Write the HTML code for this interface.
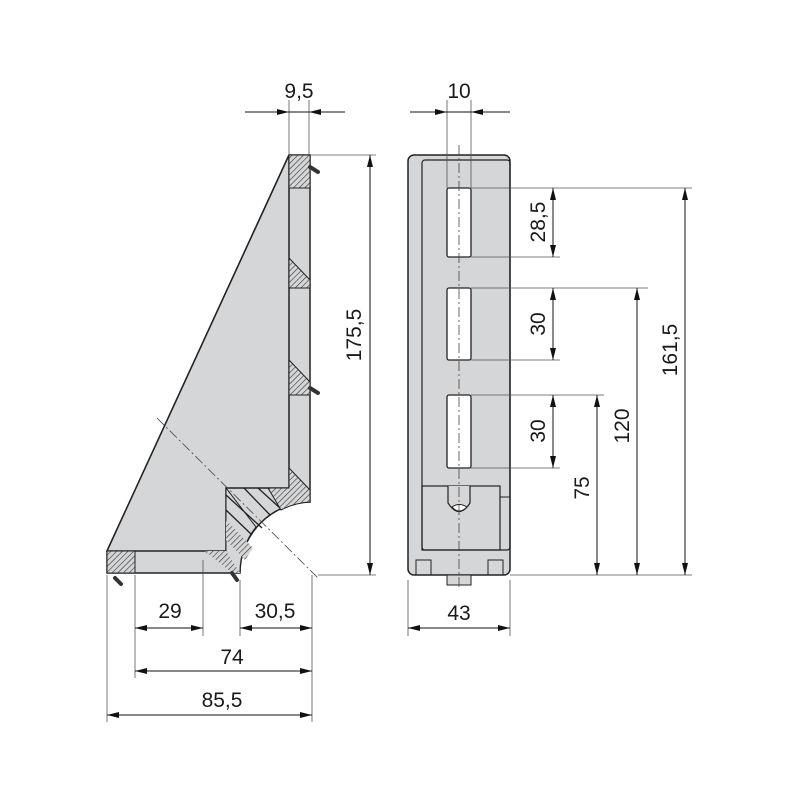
<!DOCTYPE html>
<html><head><meta charset="utf-8"><style>
body{margin:0;background:#fff}
svg{display:block}
text{font-family:"Liberation Sans",sans-serif;font-size:21px;fill:#1a1a1a}
</style></head><body>
<svg width="800" height="800" viewBox="0 0 800 800" xmlns="http://www.w3.org/2000/svg">
<defs>
<pattern id="h" width="4" height="4" patternUnits="userSpaceOnUse" patternTransform="rotate(45)">
<rect width="4" height="4" fill="#d4d6d8"/><line x1="0" y1="0" x2="0" y2="4" stroke="#333" stroke-width="1.2"/></pattern>
<marker id="a" viewBox="0 0 12 6" refX="12" refY="3" markerWidth="12" markerHeight="6" orient="auto-start-reverse" markerUnits="userSpaceOnUse"><path d="M0,0 L12,3 L0,6z" fill="#111"/></marker>
</defs>
<!-- LEFT VIEW -->
<path d="M289,155 L310,155 L310,502 A71,71 0 0 0 240,573 L107,573 L107,551 Z" fill="#d4d6d8" stroke="#222" stroke-width="1.5"/>
<path d="M107,551 L289,155 L289,488 L226,488 L226,551 Z" fill="#d4d6d8" stroke="#222" stroke-width="1.5"/>
<rect x="289" y="155" width="21" height="33" fill="url(#h)" stroke="#222" stroke-width="1"/>
<path d="M289,258 L310,280 L310,288 L289,288Z" fill="url(#h)" stroke="#222" stroke-width="1"/>
<path d="M289,360 L310,382 L310,395 L289,395Z" fill="url(#h)" stroke="#222" stroke-width="1"/>
<path d="M289,468 L310,490 L310,502 A71,71 0 0 0 281,510 L268,488 L289,488Z" fill="url(#h)" stroke="#222" stroke-width="1"/>
<path d="M226,488 L226,551 L205,551 L240,573 A71,71 0 0 1 256,527 Z" fill="#d4d6d8" stroke="#222" stroke-width="1"/>
<path d="M226,520 L253,548 L245,560 L226,540Z" fill="url(#h)"/>
<path d="M205,551 L226,551 L240,573 L232,573Z" fill="url(#h)"/>
<rect x="107" y="551" width="28" height="22" fill="url(#h)" stroke="#222" stroke-width="1"/>
<g stroke="#222" stroke-width="1.3"><line x1="226" y1="495" x2="262" y2="528"/><line x1="226" y1="510" x2="252" y2="535"/><line x1="244" y1="488" x2="270" y2="515"/><line x1="258" y1="488" x2="280" y2="508"/></g>
<line x1="289" y1="188" x2="310" y2="188" stroke="#222"/><line x1="289" y1="288" x2="310" y2="288" stroke="#222"/><line x1="289" y1="395" x2="310" y2="395" stroke="#222"/>
<g stroke="#333" stroke-width="4" stroke-linecap="round" fill="none"><line x1="310" y1="167" x2="318" y2="172"/><line x1="310" y1="388" x2="318" y2="393"/><line x1="115" y1="578" x2="121" y2="584"/><line x1="232" y1="573" x2="237" y2="580"/></g>
<line x1="157" y1="418" x2="318" y2="578" stroke="#444" stroke-dasharray="10,3,2,3" stroke-width="0.8"/>
<!-- LEFT DIMS -->
<g stroke="#555" stroke-width="0.8" fill="none">
<line x1="289" y1="100" x2="289" y2="155"/><line x1="309" y1="100" x2="309" y2="155"/>
<line x1="310" y1="155" x2="376" y2="155"/><line x1="318" y1="575" x2="376" y2="575"/>
<line x1="107" y1="575" x2="107" y2="722"/><line x1="135" y1="575" x2="135" y2="678"/>
<line x1="203" y1="560" x2="203" y2="636"/><line x1="240" y1="580" x2="240" y2="636"/>
<line x1="312" y1="575" x2="312" y2="722"/>
</g>
<g stroke="#111" stroke-width="1" fill="none">
<line x1="245" y1="112" x2="289" y2="112" marker-end="url(#a)"/><line x1="345" y1="112" x2="309" y2="112" marker-end="url(#a)"/><line x1="289" y1="112" x2="309" y2="112"/>
<line x1="370" y1="155" x2="370" y2="575" marker-start="url(#a)" marker-end="url(#a)"/>
<line x1="135" y1="628" x2="203" y2="628" marker-start="url(#a)" marker-end="url(#a)"/>
<line x1="240" y1="628" x2="312" y2="628" marker-start="url(#a)" marker-end="url(#a)"/>
<line x1="135" y1="671" x2="312" y2="671" marker-start="url(#a)" marker-end="url(#a)"/>
<line x1="107" y1="715" x2="312" y2="715" marker-start="url(#a)" marker-end="url(#a)"/>
</g>
<text x="299" y="98" text-anchor="middle">9,5</text>
<text transform="translate(361,335) rotate(-90)" text-anchor="middle">175,5</text>
<text x="170" y="618" text-anchor="middle">29</text>
<text x="275" y="618" text-anchor="middle">30,5</text>
<text x="232" y="664" text-anchor="middle">74</text>
<text x="222" y="707" text-anchor="middle">85,5</text>
<!-- RIGHT VIEW -->
<rect x="408" y="155" width="102" height="420" rx="6" fill="#d4d6d8" stroke="#222" stroke-width="1.5"/>
<rect x="422" y="160" width="88" height="390" rx="3" fill="none" stroke="#222" stroke-width="1.2"/>
<rect x="422" y="486" width="78" height="64" fill="none" stroke="#222" stroke-width="1.2"/>
<line x1="500" y1="497" x2="510" y2="497" stroke="#222"/>
<rect x="447" y="188" width="24" height="69" rx="2" fill="#fff" stroke="#222" stroke-width="1.3"/>
<rect x="447" y="288" width="24" height="72" rx="2" fill="#fff" stroke="#222" stroke-width="1.3"/>
<rect x="447" y="395" width="24" height="73" rx="2" fill="#fff" stroke="#222" stroke-width="1.3"/>
<path d="M448,486 L448,503 Q459,520 470,503 L470,486" fill="#d4d6d8" stroke="#222" stroke-width="1.2"/>
<path d="M452,507 Q459,502 467,507 Q459,515 452,507Z" fill="#fff" stroke="#222"/>
<rect x="416" y="560" width="15" height="15" fill="none" stroke="#222"/>
<rect x="488" y="560" width="15" height="15" fill="none" stroke="#222"/>
<rect x="447" y="575" width="24" height="10" fill="#d4d6d8" stroke="#222"/>
<line x1="459" y1="145" x2="459" y2="590" stroke="#444" stroke-dasharray="10,3,2,3" stroke-width="0.8"/>
<g stroke="#555" stroke-width="0.8" fill="none">
<line x1="447" y1="100" x2="447" y2="188"/><line x1="471" y1="100" x2="471" y2="188"/>
<line x1="471" y1="188" x2="692" y2="188"/><line x1="471" y1="257" x2="560" y2="257"/>
<line x1="471" y1="288" x2="648" y2="288"/><line x1="471" y1="360" x2="560" y2="360"/>
<line x1="471" y1="395" x2="604" y2="395"/><line x1="471" y1="468" x2="560" y2="468"/>
<line x1="510" y1="575" x2="692" y2="575"/>
<line x1="408" y1="580" x2="408" y2="636"/><line x1="510" y1="580" x2="510" y2="636"/>
</g>
<g stroke="#111" stroke-width="1" fill="none">
<line x1="410" y1="112" x2="447" y2="112" marker-end="url(#a)"/><line x1="510" y1="112" x2="471" y2="112" marker-end="url(#a)"/><line x1="447" y1="112" x2="471" y2="112"/>
<line x1="553" y1="188" x2="553" y2="257" marker-start="url(#a)" marker-end="url(#a)"/>
<line x1="553" y1="288" x2="553" y2="360" marker-start="url(#a)" marker-end="url(#a)"/>
<line x1="553" y1="395" x2="553" y2="468" marker-start="url(#a)" marker-end="url(#a)"/>
<line x1="597" y1="395" x2="597" y2="575" marker-start="url(#a)" marker-end="url(#a)"/>
<line x1="637" y1="288" x2="637" y2="575" marker-start="url(#a)" marker-end="url(#a)"/>
<line x1="685" y1="188" x2="685" y2="575" marker-start="url(#a)" marker-end="url(#a)"/>
<line x1="408" y1="628" x2="510" y2="628" marker-start="url(#a)" marker-end="url(#a)"/>
</g>
<text x="459" y="98" text-anchor="middle">10</text>
<text transform="translate(545,222) rotate(-90)" text-anchor="middle">28,5</text>
<text transform="translate(545,324) rotate(-90)" text-anchor="middle">30</text>
<text transform="translate(545,431) rotate(-90)" text-anchor="middle">30</text>
<text transform="translate(589,488) rotate(-90)" text-anchor="middle">75</text>
<text transform="translate(629,426) rotate(-90)" text-anchor="middle">120</text>
<text transform="translate(677,350) rotate(-90)" text-anchor="middle">161,5</text>
<text x="459" y="620" text-anchor="middle">43</text>
</svg>
</body></html>
